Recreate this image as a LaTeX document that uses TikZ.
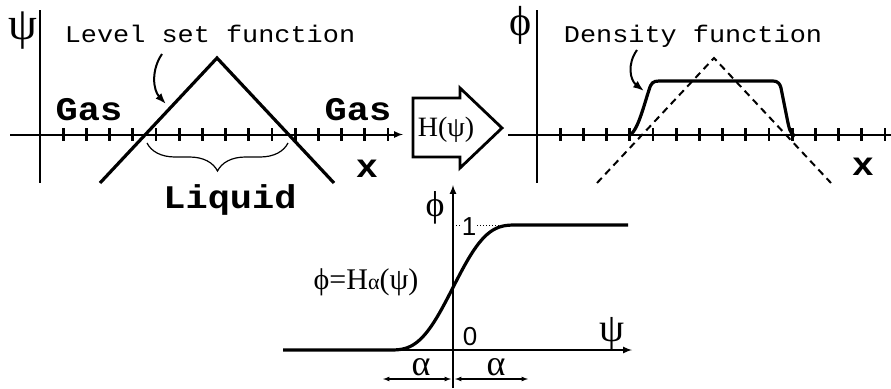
\documentclass[tikz,border=0pt]{standalone}
\usepackage{fontspec}
\setmainfont{Liberation Serif}
\setsansfont{Liberation Sans}
\newfontfamily\typefont[FakeStretch=1.12]{Liberation Mono}
\usetikzlibrary{decorations.pathreplacing,arrows.meta}
\newcommand{\fsz}[1]{\fontsize{#1}{#1}\selectfont}
\begin{document}
\begin{tikzpicture}[x=1pt,y=-1pt,
  axis/.style={line width=2pt},
  tick/.style={line width=2.8pt},
  graph/.style={line width=3.2pt},
  guide/.style={line width=2pt,dash pattern=on 7pt off 5pt},
  pointer/.style={line width=2pt,-{Latex[length=11pt,width=8pt]}},
  label/.style={font=\typefont\fsz{24},inner sep=0pt},
  region/.style={font=\typefont\bfseries\fsz{33},inner sep=0pt},
  sym/.style={font=\fsz{#1},inner sep=0pt}]
\useasboundingbox (0,0) rectangle (891,388);
% level set panel
\coordinate (top1) at (217,58);
\coordinate (cutL) at (147,143);
\coordinate (cutR) at (288,143);
\draw[axis] (40,10) -- (40,183);
\draw[axis,-latex] (10,134.5) -- (403,134.5);
\foreach \k in {1,...,15}
  \draw[tick] ({40+23.2*\k},128) -- ++(0,13);
\draw[graph] (100,183) -- (top1) -- (334,183);
\draw[line width=1.2pt,decorate,decoration={brace,mirror,amplitude=28pt}] (cutL) -- (cutR);
\node[sym=46] (psi1) at (23,31) {ψ};
\node[label,anchor=base] (levelset) at (210,42) {Level set function};
\node[region,anchor=base] (gas1) at (89,120) {Gas};
\node[region,anchor=base] (gas2) at (358,120) {Gas};
\node[region,anchor=base] (x1) at (367,177) {x};
\node[region,anchor=base] (liquid) at (230,208) {Liquid};
\draw[pointer] (162,54) .. controls (151,70) and (153,90) .. (166,104);
% transform
\draw[line width=2.8pt,line join=miter] (413,98) -- (460,98) -- (460,88) -- (502,128)
  -- (460,168) -- (460,157) -- (413,157) -- cycle;
\node[sym=28,anchor=base] (heavi) at (446,136) {H(ψ)};
% density panel
\coordinate (top2) at (714,58);
\draw[axis] (537,10) -- (537,183);
\draw[axis] (508,134.5) -- (891,134.5);
\foreach \k in {1,...,15}
  \draw[tick] ({537+23.2*\k},128) -- ++(0,13);
\draw[guide] (597,183) -- (top2) -- (831,183);
\draw[graph,line join=round] (630,135) .. controls (638,130) and (644,105) .. (649,90)
  .. controls (651,83) and (653,81) .. (659,81) -- (773,81)
  .. controls (778,81) and (780,84) .. (781,88) -- (787,118)
  .. controls (789,128) and (790,134) .. (795,136);
\node[sym=42] (phi1) at (521,25) {ϕ};
\node[label,anchor=base] (density) at (693,42) {Density function};
\node[region,anchor=base] (x2) at (863,175) {x};
\draw[pointer] (637,50) .. controls (627,64) and (630,80) .. (644,91);
% smoothed heaviside
\coordinate (orig) at (453,350);
\draw[axis,-latex] (283,350) -- (632,350);
\draw[axis,-latex] (453,388) -- (453,185);
\draw[graph] (283,350) -- (389,350)
  -- plot[domain=-64:64,samples=60] ({453+\x},{350-125*(0.5*(1+\x/64+sin(180*\x/64)/pi))})
  -- (628,225);
\draw[line width=1pt,dotted] (453,225) -- (517,225);
\node[font=\sffamily\fsz{26},fill=white,inner sep=1pt,anchor=base] (one) at (469,235) {1};
\node[font=\sffamily\fsz{26},inner sep=0pt,anchor=base] (zero) at (470,345) {0};
\node[sym=36] (phi2) at (435,208) {ϕ};
\node[sym=40] (psi2) at (612,334) {ψ};
\node[sym=30,anchor=base] (heqn) at (366,289) {ϕ=H{\fsz{22}α}(ψ)};
\draw[line width=1.2pt,latex-latex] (383,379) -- (451,379);
\draw[line width=1.2pt,latex-latex] (455,379) -- (528,379);
\node[sym=36,anchor=base] (alpha1) at (421,375) {α};
\node[sym=36,anchor=base] (alpha2) at (496,375) {α};
\end{tikzpicture}
\end{document}
